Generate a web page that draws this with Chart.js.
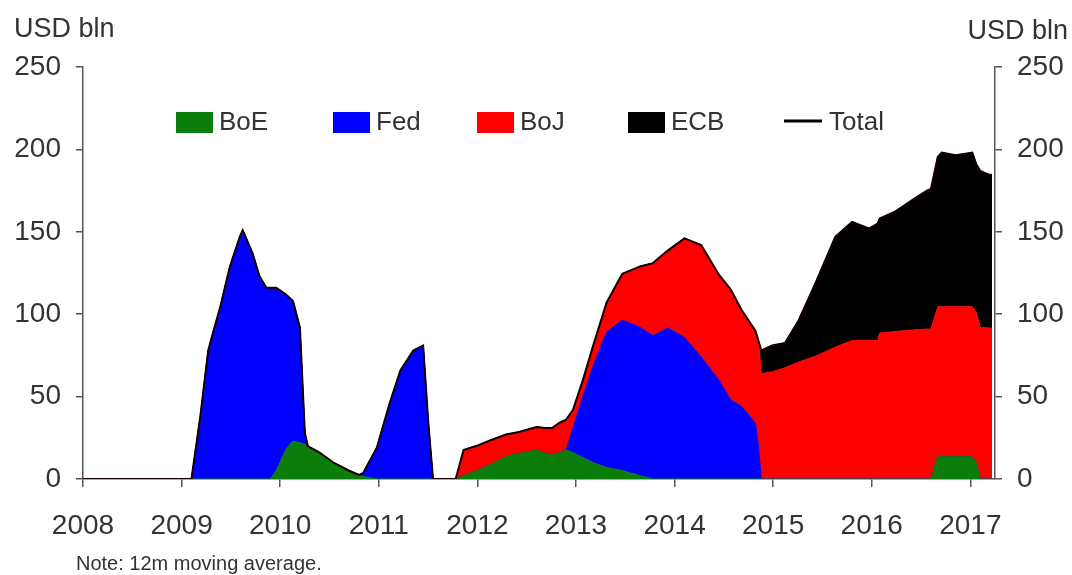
<!DOCTYPE html>
<html>
<head>
<meta charset="utf-8">
<script src="https://cdn.jsdelivr.net/npm/chart.js@4.4.1/dist/chart.umd.min.js"></script>
<style>
  html, body { margin: 0; padding: 0; background: #fff; }
  #wrap { width: 1072px; height: 575px; position: relative; }
</style>
</head>
<body>
<div id="wrap"><canvas id="cbChart" width="1072" height="575"></canvas></div>
<script>
// ── data: 12m moving average, USD bln ──
const years = [
  2008.00, 2009.10, 2009.19, 2009.27, 2009.32, 2009.39, 2009.49, 2009.59, 2009.62, 2009.72,
  2009.79, 2009.86, 2009.90, 2009.96, 2010.06, 2010.13, 2010.20, 2010.25, 2010.28, 2010.40,
  2010.54, 2010.70, 2010.80, 2010.84, 2010.98, 2011.11, 2011.22, 2011.35, 2011.45, 2011.50,
  2011.55, 2011.78, 2011.86, 2012.01, 2012.14, 2012.29, 2012.42, 2012.60, 2012.69, 2012.76,
  2012.83, 2012.90, 2012.97, 2013.07, 2013.17, 2013.31, 2013.47, 2013.65, 2013.78, 2013.93,
  2014.10, 2014.27, 2014.45, 2014.57, 2014.68, 2014.82, 2014.85, 2014.88, 2014.99, 2015.12,
  2015.26, 2015.43, 2015.63, 2015.80, 2015.97, 2016.06, 2016.08, 2016.23, 2016.44, 2016.56,
  2016.60, 2016.67, 2016.71, 2016.85, 2017.02, 2017.06, 2017.10, 2017.19, 2017.22
];
const boe = [
  0, 0, 0, 0, 0, 0, 0, 0, 0, 0,
  0, 0, 0, 5, 18, 23, 22, 21, 20, 16,
  10, 5, 2.5, 1.5, 0, 0, 0, 0, 0, 0,
  0, 0, 2, 5.5, 9, 13.5, 15.5, 17.6, 15.5, 14.6,
  16, 17.6, 16, 13, 10, 7, 5, 2, 0, 0,
  0, 0, 0, 0, 0, 0, 0, 0, 0, 0,
  0, 0, 0, 0, 0, 0, 0, 0, 0, 0,
  0, 13.5, 13.5, 13.5, 13.5, 10, 0, 0, 0
];
const fed = [
  0, 0, 38, 78, 89, 104, 129, 147, 151, 137,
  123, 116, 116, 111, 94, 85, 70, 7, 0, 0,
  0, 0, 0, 2, 19, 46, 66, 78, 81, 36,
  0, 0, 0, 0, 0, 0, 0, 0, 0, 0,
  0, 0, 15, 37, 58, 82, 91.5, 90, 87, 91.6,
  86, 74, 60, 48, 44, 34, 20, 0, 0, 0,
  0, 0, 0, 0, 0, 0, 0, 0, 0, 0,
  0, 0, 0, 0, 0, 0, 0, 0, 0
];
const boj = [
  0, 0, 0, 0, 0, 0, 0, 0, 0, 0,
  0, 0, 0, 0, 0, 0, 0, 0, 0, 0,
  0, 0, 0, 0, 0, 0, 0, 0, 0, 0,
  0, 0, 15.6, 15, 14.7, 13.5, 13, 14, 15.5, 16.4,
  18, 18.4, 11, 10, 12, 18, 28, 37, 44, 47,
  60, 68, 64, 67, 58.5, 56, 64, 64, 65, 67.5,
  71, 74.5, 80, 84, 84, 84, 88.5, 89.5, 90.5, 91,
  91, 91, 91, 91, 91, 91, 92, 91.6, 91.6
];
const ecb = [
  0, 0, 0, 0, 0, 0, 0, 0, 0, 0,
  0, 0, 0, 0, 0, 0, 0, 0, 0, 0,
  0, 0, 0, 0, 0, 0, 0, 0, 0, 0,
  0, 0, 0, 0, 0, 0, 0, 0, 0, 0,
  0, 0, 0, 0, 0, 0, 0, 0, 0, 0,
  0, 0, 0, 0, 0, 0, 0, 14, 16, 15,
  25.5, 44.5, 67, 72, 68, 71, 69.5, 72.5, 80, 84,
  85, 91, 93.5, 92, 93.5, 90, 95, 93, 93
];
const yearTicks = [2008, 2009, 2010, 2011, 2012, 2013, 2014, 2015, 2016, 2017];
const valueTicks = [0, 50, 100, 150, 200, 250];

const seriesNames = ['BoE', 'Fed', 'BoJ', 'ECB'];
const seriesColors = ['#0a7d0a', '#0000ff', '#ff0000', '#000000'];

const FONT = "'Liberation Sans', Arial, sans-serif";
const TEXT = '#333333';
const AXIS = '#555555';

const pts = arr => years.map((x, i) => ({ x: x, y: arr[i] }));
const total = years.map((x, i) => boe[i] + fed[i] + boj[i] + ecb[i]);

const areaSet = (label, arr, color, fill) => ({
  label: label,
  data: pts(arr),
  stack: 'cb',
  order: 1,
  fill: fill,
  backgroundColor: color,
  borderColor: color,
  borderWidth: 1,
  pointRadius: 0,
  tension: 0
});

// ─────────────────────────────────────────────
// texts + legend drawn straight on the canvas
// ─────────────────────────────────────────────
const decorPlugin = {
  id: 'decor',
  afterDraw(chart) {
    const ctx = chart.ctx;
    ctx.save();
    ctx.fillStyle = TEXT;
    ctx.textBaseline = 'middle';
    ctx.font = `27px ${FONT}`;
    ctx.textAlign = 'left';
    ctx.fillText('USD bln', 14, 30);
    ctx.textAlign = 'right';
    ctx.fillText('USD bln', 1068, 32);

    ctx.font = `20px ${FONT}`;
    ctx.textAlign = 'left';
    ctx.fillText('Note: 12m moving average.', 76, 564);

    // legend
    const boxX = [176, 333, 477, 628];
    ctx.font = `26px ${FONT}`;
    seriesNames.forEach((name, i) => {
      ctx.fillStyle = seriesColors[i];
      ctx.fillRect(boxX[i], 112, 37, 21);
      ctx.fillStyle = TEXT;
      ctx.fillText(name, boxX[i] + 43, 123);
    });
    ctx.strokeStyle = '#000';
    ctx.lineWidth = 3;
    ctx.beginPath();
    ctx.moveTo(784, 121);
    ctx.lineTo(822, 121);
    ctx.stroke();
    ctx.fillText('Total', 829, 123);
    ctx.restore();
  }
};

const yScale = (pos) => ({
  type: 'linear',
  position: pos,
  stacked: pos === 'left',
  min: 0,
  max: 250,
  afterBuildTicks: s => { s.ticks = valueTicks.map(v => ({ value: v })); },
  afterFit: s => { s.width = pos === 'left' ? 83 : 77; },
  grid: { drawOnChartArea: false, drawTicks: true, tickLength: 7, color: AXIS, lineWidth: 1.5 },
  border: { display: true, color: AXIS, width: 1.5 },
  ticks: { color: TEXT, font: { family: FONT, size: 28 }, padding: 15 }
});

new Chart(document.getElementById('cbChart').getContext('2d'), {
  type: 'line',
  data: {
    datasets: [
      areaSet('BoE', boe, seriesColors[0], 'origin'),
      areaSet('Fed', fed, seriesColors[1], '-1'),
      areaSet('BoJ', boj, seriesColors[2], '-1'),
      areaSet('ECB', ecb, seriesColors[3], '-1'),
      {
        label: 'Total',
        data: pts(total),
        stack: 'total',
        order: 0,
        fill: false,
        borderColor: '#140000',
        borderWidth: 2,
        pointRadius: 0,
        tension: 0
      }
    ]
  },
  options: {
    responsive: false,
    animation: false,
    layout: { padding: { top: 67, left: 0, right: 0, bottom: 0 } },
    scales: {
      x: {
        type: 'linear',
        min: 2008,
        max: 2017.25,
        afterBuildTicks: s => { s.ticks = yearTicks.map(v => ({ value: v })); },
        afterFit: s => { s.height = 96; },
        grid: { drawOnChartArea: false, drawTicks: true, tickLength: 8, color: AXIS, lineWidth: 1.5 },
        border: { display: true, color: AXIS, width: 1.5 },
        ticks: {
          color: TEXT,
          font: { family: FONT, size: 28 },
          padding: 22,
          maxRotation: 0,
          callback: v => String(v)
        }
      },
      y: yScale('left'),
      y2: yScale('right')
    },
    plugins: {
      legend: { display: false },
      tooltip: { enabled: false }
    }
  },
  plugins: [decorPlugin]
});
</script>
</body>
</html>
